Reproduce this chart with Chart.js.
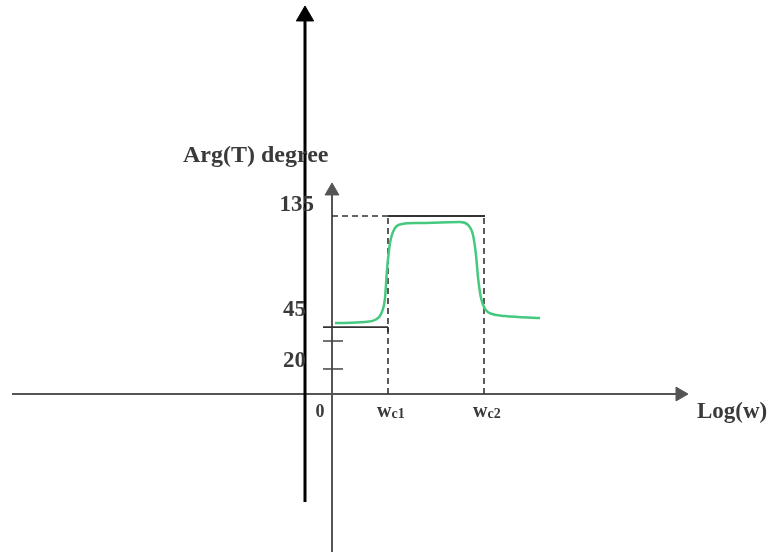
<!DOCTYPE html>
<html>
<head>
<meta charset="utf-8">
<script src="https://cdn.jsdelivr.net/npm/chart.js@4.4.0/dist/chart.umd.min.js"></script>
<style>
  html, body { margin: 0; padding: 0; background: #fff; }
  #wrap { width: 774px; height: 552px; }
</style>
</head>
<body>
<div id="wrap"><canvas id="chart" width="774" height="552"></canvas></div>
<script>
// Arg(T) against log(w): x in log(w) units (origin at 0), y in degrees
const curveLogW = [0.3, 3.3, 4.3, 4.9, 5.3, 5.5, 5.8, 6.3, 7.0, 8.8, 12.8, 13.6, 14.1, 14.4, 14.6, 14.9, 15.3, 16.0, 17.3, 20.8];
const curveArg  = [53.8, 54.6, 56.1, 60.7, 72.8, 94.0, 114.5, 125.9, 128.9, 129.7, 130.4, 128.2, 120.6, 105.4, 88.7, 72.8, 64.5, 60.7, 59.2, 57.6];

const cornerW = [5.6, 15.2];         // wc1, wc2
const cornerNames = ['c1', 'c2'];
const phaseHigh = 135;
const phaseLow = 50.8;
const yTickMarks = [40.2, 19];
const yTickLabels = ['135', '45', '20'];

const axisGray = '#555';
const inkDark = '#3a3a3a';

function pts(xs, ys) {
    return xs.map(function (x, i) { return { x: x, y: ys[i] }; });
}

function seg(x1, y1, x2, y2, color, width, dash) {
    return {
        data: [{ x: x1, y: y1 }, { x: x2, y: y2 }],
        showLine: true,
        borderColor: color,
        borderWidth: width,
        borderDash: dash || [],
        pointRadius: 0,
        tension: 0
    };
}

function arrow(x1, y1, x2, y2, color, width, head, rot) {
    const d = seg(x1, y1, x2, y2, color, width);
    d.pointRadius = [0, head];
    d.pointStyle = 'triangle';
    d.pointRotation = rot;
    d.pointBackgroundColor = color;
    d.pointBorderColor = color;
    d.pointBorderWidth = 1;
    return d;
}

const datasets = [];

// overlaid black arrow
datasets.push(arrow(-2.7, -81.9, -2.7, 286.7, '#000', 3, 10, 0));

// green phase curve
datasets.push({
    data: pts(curveLogW, curveArg),
    showLine: true,
    borderColor: '#45c97e',
    borderWidth: 2.5,
    pointRadius: 0,
    cubicInterpolationMode: 'monotone'
});

// asymptote sketch
datasets.push(seg(0, phaseHigh, cornerW[0], phaseHigh, '#333', 1.6, [6, 4]));
datasets.push(seg(cornerW[0], phaseHigh, cornerW[1] + 0.1, phaseHigh, '#333', 1.8));
datasets.push(seg(cornerW[0], 0, cornerW[0], phaseHigh, '#333', 1.6, [6, 4]));
datasets.push(seg(cornerW[1], 0, cornerW[1], phaseHigh, '#333', 1.6, [6, 4]));
datasets.push(seg(-0.9, phaseLow, cornerW[0], phaseLow, '#333', 1.8));
datasets.push(seg(cornerW[0], phaseLow, cornerW[0], phaseLow - 4, '#333', 1.8));
yTickMarks.forEach(function (v) {
    datasets.push(seg(-0.9, v, 1.1, v, '#444', 1.5));
});

// axes
datasets.push(arrow(-32, 0, 34.8, 0, axisGray, 2, 8, 90));
datasets.push(arrow(0, -125, 0, 154, axisGray, 2, 8, 0));

const labelsPlugin = {
    id: 'sketchLabels',
    afterDraw: function (chart) {
        const ctx = chart.ctx;
        const xs = chart.scales.x;
        const ys = chart.scales.y;
        const px = function (v) { return xs.getPixelForValue(v); };
        const py = function (v) { return ys.getPixelForValue(v); };
        const serif = '"Liberation Serif", "Times New Roman", serif';

        ctx.save();
        ctx.fillStyle = inkDark;
        ctx.textBaseline = 'middle';

        // y labels
        ctx.font = 'bold 23px ' + serif;
        ctx.textAlign = 'right';
        ctx.fillText(yTickLabels[0], px(-1.8), py(143));
        ctx.fillText(yTickLabels[1], px(-2.6), py(64));
        ctx.fillText(yTickLabels[2], px(-2.6), py(25));

        // axis titles
        ctx.textAlign = 'left';
        ctx.font = 'bold 24px ' + serif;
        ctx.fillText('Arg(T) degree', px(-14.9), py(181));
        ctx.font = 'bold 23px ' + serif;
        ctx.fillText('Log(w)', px(36.5), py(-13.7));

        // x labels
        ctx.font = 'bold 18px ' + serif;
        ctx.textAlign = 'center';
        ctx.fillText('0', px(-1.2), py(-13.7));
        cornerW.forEach(function (w, i) {
            const x0 = px(w) - 11;
            ctx.textAlign = 'left';
            ctx.font = 'bold 20px ' + serif;
            ctx.fillText('w', x0, py(-13.2));
            const ww = ctx.measureText('w').width;
            ctx.font = 'bold 14px ' + serif;
            ctx.fillText(cornerNames[i], x0 + ww, py(-15.5));
        });
        ctx.restore();
    }
};

new Chart(document.getElementById('chart'), {
    type: 'scatter',
    data: { datasets: datasets },
    options: {
        responsive: false,
        animation: false,
        events: [],
        layout: { padding: 0, autoPadding: false },
        plugins: { legend: { display: false }, tooltip: { enabled: false } },
        elements: { line: { borderCapStyle: 'butt' } },
        datasets: { scatter: { clip: false } },
        scales: {
            x: { type: 'linear', display: false, min: -33.2, max: 44.2 },
            y: { type: 'linear', display: false, min: -119.8, max: 298.8 }
        }
    },
    plugins: [labelsPlugin]
});
</script>
</body>
</html>
